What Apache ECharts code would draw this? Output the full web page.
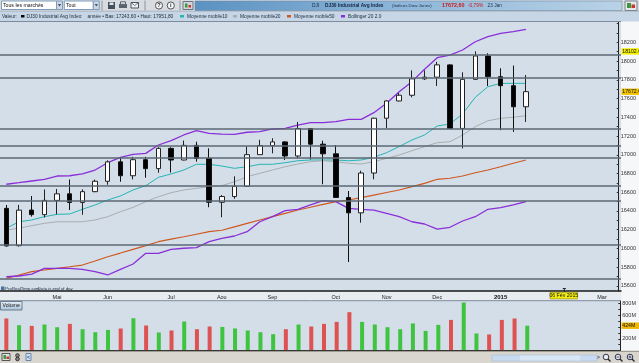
<!DOCTYPE html>
<html><head><meta charset="utf-8">
<script src="https://cdn.jsdelivr.net/npm/echarts@6/dist/echarts.min.js"></script>
<style>html,body{margin:0;padding:0;background:#fff;overflow:hidden}#c{width:639px;height:363px}</style>
</head><body><div id="c"></div>
<script>
// ---- data (weekly DJ30 candles) ----
const weeks = ['2014-04-11','2014-04-17','2014-04-25','2014-05-02','2014-05-09','2014-05-16','2014-05-23','2014-05-30','2014-06-06','2014-06-13','2014-06-20','2014-06-27','2014-07-03','2014-07-11','2014-07-18','2014-07-25','2014-08-01','2014-08-08','2014-08-15','2014-08-22','2014-08-29','2014-09-05','2014-09-12','2014-09-19','2014-09-26','2014-10-03','2014-10-10','2014-10-17','2014-10-24','2014-10-31','2014-11-07','2014-11-14','2014-11-21','2014-11-28','2014-12-05','2014-12-12','2014-12-19','2014-12-26','2015-01-02','2015-01-09','2015-01-16','2015-01-23','2015-01-30','2015-02-06','2015-02-13','2015-02-20','2015-02-27','2015-03-06','2015-03-13'];
const openP  = [16428,16030,16410,16361,16513,16583,16491,16606,16717,16924,16776,16947,16852,17068,16944,17100,16961,16493,16554,16663,17001,17098,17137,16987,17280,17113,17010,16544,16380,16805,17390,17574,17635,17810,17828,17959,17281,17805,18054,17833,17737,17512];
const closeP = [16027,16409,16361,16513,16583,16491,16606,16717,16924,16776,16947,16852,17068,16944,17100,16961,16493,16554,16663,17001,17098,17137,16987,17280,17113,17010,16544,16380,16805,17390,17574,17635,17810,17828,17959,17281,17805,18054,17833,17737,17512,17673];
const lowP   = [16020,16020,16340,16330,16365,16410,16360,16600,16680,16712,16737,16755,16808,16810,16940,16926,16440,16333,16530,16660,17000,17015,16944,16960,16950,16685,16540,15855,16275,16738,17282,17570,17613,17798,17734,17280,17068,17800,17734,17262,17244,17350];
const highP  = [16464,16465,16560,16630,16635,16736,16631,16735,16940,16970,16978,16978,17080,17080,17151,17139,17069,16570,16770,17090,17160,17176,17145,17350,17285,17150,17104,16613,16830,17395,17580,17660,17900,17900,17991,17965,17880,18104,18083,17923,17952,17851];
const volM   = [547,432,421,444,398,455,364,313,352,376,552,427,308,342,496,364,410,403,376,342,313,279,364,444,410,455,489,655,489,444,398,364,462,335,438,523,820,291,274,523,547,424];
const volUp  = [0,1,0,1,1,0,1,1,1,0,1,0,1,0,1,0,0,1,1,1,1,1,0,1,0,0,0,0,1,1,1,1,1,1,1,0,1,1,0,0,0,1];
const ma10   = [16215,16285,16304,16339,16364,16368,16418,16464,16517,16560,16624,16670,16759,16795,16837,16898,16898,16880,16855,16872,16898,16898,16915,16936,16944,16944,16944,16936,16944,16973,17022,17088,17157,17211,17307,17328,17435,17613,17726,17762,17762,17762];
const ma20   = [16197,16215,16243,16268,16285,16285,16285,16304,16339,16392,16439,16499,16552,16595,16624,16642,16659,16670,16712,16766,16802,16837,16872,16901,16926,16936,16926,16909,16901,16926,16962,16997,17043,17086,17129,17139,17211,17299,17363,17389,17400,17417];
const ma50   = [15681,15717,15752,15770,15788,15805,15823,15866,15912,15951,15991,16031,16072,16099,16125,16152,16179,16194,16231,16268,16304,16339,16374,16410,16440,16471,16499,16517,16542,16570,16597,16624,16659,16695,16738,16749,16773,16808,16837,16872,16909,16944];
const bbUp   = [16685,16702,16720,16738,16773,16776,16795,16837,16915,16973,17005,17015,17104,17150,17211,17257,17229,17221,17218,17240,17246,17275,17282,17317,17342,17342,17353,17378,17378,17449,17549,17673,17780,17912,18036,18064,18118,18206,18260,18296,18313,18339];
const bbLow  = [15698,15706,15727,15788,15788,15788,15777,15752,15717,15777,15834,15948,15948,15991,16002,16008,16072,16108,16133,16179,16285,16339,16403,16418,16464,16510,16499,16428,16418,16410,16375,16339,16285,16261,16207,16226,16293,16339,16418,16435,16464,16499];
const hLines = [18072,17822,17282,17096,16968,16670,16506,16044,15681];
const yTicks = [15600,15800,16000,16200,16400,16600,16800,17000,17200,17400,17600,17800,18000,18200];
const volTicks = [200,600,800];
const monthTicks = {4:'Mai',8:'Jun',13:'Jul',17:'Aou',21:'Sep',26:'Oct',30:'Nov',34:'Dec',39:'2015',47:'Mar'};
const lastClose = 17672.6, athLabel = 18102.6, lastVol = 424;

// ---- layout ----
const FONT = 'Liberation Sans, Arial, sans-serif';
const slot = 12.77, gLeft = -2.385, gWidth = 49 * slot;
const BG = '#d3dee9';
const tickMarks = []; for (let v = 15600; v <= 18400; v += 100) tickMarks.push(v);

const chart = echarts.init(document.getElementById('c'));
const candleData = openP.map((o, i) => [o, closeP[i], lowP[i], highP[i]]);
const lineS = (name, data, color, w) => ({
  name, type: 'line', xAxisIndex: 0, yAxisIndex: 0, data, showSymbol: false, symbol: 'none',
  lineStyle: {color, width: w}, itemStyle: {color}, z: 3, silent: true
});

chart.setOption({
  animation: false,
  textStyle: {fontFamily: FONT},
  grid: [
    {left: gLeft, width: gWidth, top: 20, height: 271},
    {left: gLeft, width: gWidth, top: 300.7, height: 49.8}
  ],
  xAxis: [
    {type: 'category', gridIndex: 0, data: weeks,
     axisLine: {show: true, lineStyle: {color: '#1a1a1a', width: 1.5}},
     axisTick: {show: false},
     axisLabel: {interval: (i) => monthTicks[i] !== undefined, margin: 3, fontSize: 5.5, color: '#222',
       formatter: (v, i) => monthTicks[i] === '2015' ? '{b|2015}' : (monthTicks[i] || ''),
       rich: {b: {fontWeight: 'bold', fontSize: 6, color: '#111'}}},
     splitLine: {show: false}},
    {type: 'category', gridIndex: 1, data: weeks, axisLine: {show: false}, axisTick: {show: false}, axisLabel: {show: false}}
  ],
  yAxis: [
    {type: 'value', gridIndex: 0, position: 'right', offset: -2.3, min: 15546, max: 18438,
     axisLine: {show: true, lineStyle: {color: '#222', width: 1}},
     axisTick: {show: true, inside: true, length: 2, customValues: tickMarks, lineStyle: {color: '#333'}},
     axisLabel: {customValues: yTicks, formatter: (v) => String(v), fontSize: 5.5, color: '#333', margin: 2},
     splitLine: {show: false}},
    {type: 'value', gridIndex: 1, position: 'right', offset: -2.3, min: 0, max: 851,
     axisLine: {show: true, lineStyle: {color: '#222', width: 1}},
     axisTick: {show: true, inside: true, length: 2, customValues: [100,200,300,400,500,600,700,800], lineStyle: {color: '#333'}},
     axisLabel: {customValues: volTicks, formatter: (v) => v + 'M', fontSize: 5.5, color: '#333', margin: 2},
     splitLine: {show: false}}
  ],
  series: [
    {name: 'DJ30', type: 'candlestick', xAxisIndex: 0, yAxisIndex: 0, data: candleData, barWidth: 5, z: 4,
     itemStyle: {color: '#ffffff', color0: '#000000', borderColor: '#222', borderColor0: '#111', borderWidth: 1},
     markLine: {silent: true, symbol: ['none', 'none'], animation: false,
       lineStyle: {color: '#5b6772', width: 1.6, type: 'solid'}, label: {show: false},
       data: hLines.map(v => ({yAxis: v}))}},
    lineS('MA10', ma10, '#27b5b3', 1),
    lineS('MA20', ma20, '#a9adb0', 1),
    lineS('MA50', ma50, '#d0581e', 1.2),
    lineS('BBup', bbUp, '#8a2fd8', 1.3),
    lineS('BBlow', bbLow, '#8a2fd8', 1.3),
    {name: 'Volume', type: 'bar', xAxisIndex: 1, yAxisIndex: 1, barWidth: 4,
     data: volM.map((v, i) => ({value: v, itemStyle: {color: volUp[i] ? '#3fc43f' : '#de5252'}}))}
  ]
});

// ---- decorations (toolbar, legend, frame, value tags) ----
const R = (x, y, w, h, fill, stroke, z, lw) => ({type: 'rect', shape: {x, y, width: w, height: h}, style: {fill, stroke: stroke || null, lineWidth: lw || 1}, z: z === undefined ? 10 : z, silent: true});
const L = (x1, y1, x2, y2, stroke, lw, z) => ({type: 'line', shape: {x1, y1, x2, y2}, style: {stroke, lineWidth: lw || 1}, z: z === undefined ? 10 : z, silent: true});
const T = (x, y, text, size, fill, weight, align, z) => ({type: 'text', x, y, style: {text, fill: fill || '#1b2a3a', font: (weight || 'normal') + ' ' + size + 'px ' + FONT, verticalAlign: 'middle', align: align || 'left'}, z: z === undefined ? 11 : z, silent: true});
const Cc = (cx, cy, r, fill, stroke, z) => ({type: 'circle', shape: {cx, cy, r}, style: {fill, stroke: stroke || null}, z: z === undefined ? 10 : z, silent: true});

const dateX = chart.convertToPixel({xAxisIndex: 0}, '2015-02-06');
const yAth = chart.convertToPixel({yAxisIndex: 0}, athLabel);
const yLast = chart.convertToPixel({yAxisIndex: 0}, lastClose);
const yVol = chart.convertToPixel({yAxisIndex: 1}, lastVol);
const tag = (y, txt, bg) => [R(621.5, y - 3.2, 17.5, 6.4, bg, null, 20), T(622.3, y + 0.2, txt, 5.2, '#111', 'normal', 'left', 21)];

const g = [
  R(0, 20, 621, 271, BG, null, -10),
  R(0, 300.7, 621, 49.8, BG, null, -10),
  R(621, 20, 18, 331, '#f5f7f9', null, -10),
  R(0, 291, 621, 9.7, '#e7ecf1', null, -10),
  L(0, 300.7, 621, 300.7, '#7d8b99', 1, 5),
  L(0, 350.5, 621, 350.5, '#2a2a2a', 1.2, 5),
  ...tag(yAth, String(athLabel), '#f4f000'),
  ...tag(yLast, String(lastClose), '#f2c200'),
  ...tag(yVol, lastVol + 'M', '#f0b800'),
  // top toolbar
  R(0, 0, 639, 11.5, '#d8dce1', null, 8),
  L(0, 11.2, 639, 11.2, '#9aa6b2', 0.8, 9),
  R(1.5, 1, 55, 8.5, '#ffffff', '#7f9db9'),
  T(3, 5.3, 'Tous les marchés', 5.2, '#111'),
  R(56.5, 1, 6, 8.5, '#c9d6e6', '#7f9db9'),
  {type: 'polygon', shape: {points: [[57.8, 4.3], [61.2, 4.3], [59.5, 6.3]]}, style: {fill: '#334'}, z: 11, silent: true},
  R(64.3, 1, 29, 8.5, '#ffffff', '#7f9db9'),
  T(66, 5.3, 'Tout', 5.2, '#111'),
  R(93.3, 1, 6, 8.5, '#c9d6e6', '#7f9db9'),
  {type: 'polygon', shape: {points: [[94.6, 4.3], [98, 4.3], [96.3, 6.3]]}, style: {fill: '#334'}, z: 11, silent: true},
  L(102, 0.5, 102, 10.5, '#8994a0', 1),
  R(108, 2, 7, 7, '#44505c', null), R(109.5, 2.5, 4, 2.5, '#dfe6ee', null, 11),
  R(119, 4, 8, 4, '#5a6470', null), R(120.5, 1.8, 5, 2.5, '#e8eef4', '#5a6470', 11),
  R(131, 2.5, 7.5, 5.5, '#f2f4f6', '#4a5460'), L(131, 2.5, 134.7, 5.6, '#4a5460', 0.8, 11), L(138.5, 2.5, 134.7, 5.6, '#4a5460', 0.8, 11),
  L(145, 0.5, 145, 10.5, '#8994a0', 1),
  Cc(159, 5.5, 3.6, '#f0f2f5', '#555'), T(159, 5.6, '?', 5.5, '#333', 'bold', 'center'),
  Cc(170.8, 5.5, 3.6, '#f0f2f5', '#555'), T(170.8, 5.6, 'i', 5.5, '#333', 'bold', 'center'),
  L(180, 0.5, 180, 10.5, '#8994a0', 1),
  R(183, 1.5, 10, 8, '#d0d6dc', '#6a747e'), R(185, 3.5, 2.5, 4, '#3a9a3a', null, 11), R(188.5, 5, 2.5, 2.5, '#c33', null, 11),
  {type: 'rect', shape: {x: 195, y: 1, width: 427, height: 9.5},
   style: {fill: new echarts.graphic.LinearGradient(0, 0, 1, 0, [{offset: 0, color: '#5b92c1'}, {offset: 0.5, color: '#8fb7d9'}, {offset: 1, color: '#b9d2e6'}]), stroke: '#6c8aa8', lineWidth: 0.6}, z: 9, silent: true},
  T(312, 5.8, 'DJI', 4.8, '#1c2c4c'),
  T(325, 5.8, 'DJ30 Industrial Avg Index', 4.8, '#142440', 'bold'),
  T(392, 5.8, '(Indices Dow Jones)', 4.4, '#1c2c4c'),
  T(442, 5.8, '17672,60', 5.4, '#d01818', 'bold'),
  T(468, 5.8, '-0,79%', 4.8, '#d01818'),
  T(487.5, 5.8, '23 Jan', 4.8, '#1c2c4c'),
  R(625, 1, 12, 9.5, '#e4e8ec', '#7a8490'), R(627, 3, 4, 5, '#3a9a3a', null, 11), R(631.5, 4.5, 3.5, 3.5, '#c33', null, 11),
  // legend band
  R(0, 11.5, 639, 10, '#c6d6e6', null, 8),
  L(0, 21.5, 621, 21.5, '#7e8c9a', 1, 9),
  T(2, 16.3, 'Valeur:', 4.8),
  R(21, 15, 3.5, 2.5, '#000', null),
  T(26.5, 16.3, 'DJ30 Industrial Avg Index:', 4.8),
  T(87.5, 16.3, 'année • Bas: 17243,60 • Haut: 17951,80', 4.8),
  R(180, 15, 4, 2.5, '#27b5b3', null),
  T(187, 16.3, 'Moyenne mobile10', 4.8),
  R(233, 15, 4, 2.5, '#a9adb0', null),
  T(240, 16.3, 'Moyenne mobile20', 4.8),
  R(287, 15, 4, 2.5, '#d0581e', null),
  T(294, 16.3, 'Moyenne mobile50', 4.8),
  R(341, 15, 4, 2.5, '#8a2fd8', null),
  T(348, 16.3, 'Bollinger 20 2.0', 4.8),
  // footer of main panel
  R(1, 286.5, 3.5, 3.5, '#4f6fa0', null, 6),
  T(5.3, 288.5, 'ProRealTime.com', 4.3, '#1b2a3a', 'normal', 'left', 6),
  T(38, 288.5, 'Data is end of day', 4.3, '#1b2a3a', 'normal', 'left', 6),
  // date cursor label
  L(dateX + 13, 288.5, dateX + 13, 292, '#222', 1, 12),
  L(dateX + 11.5, 288.5, dateX + 14.5, 288.5, '#222', 1, 12),
  R(dateX - 1.3, 292.3, 27.6, 6.6, '#f2ee10', '#8a7d00', 12, 0.6),
  T(dateX + 12.5, 295.8, '06 Fév 2015', 5.2, '#111', 'normal', 'center', 13),
  // volume tab
  {type: 'rect', shape: {x: 0.5, y: 301.5, width: 21.5, height: 8.5},
   style: {fill: new echarts.graphic.LinearGradient(0, 0, 0, 1, [{offset: 0, color: '#e8f0f8'}, {offset: 1, color: '#a9c2da'}]), stroke: '#55677a', lineWidth: 0.8}, z: 10, silent: true},
  T(2.5, 306, 'Volume', 5.2, '#111'),
  // bottom toolbar
  R(0, 351, 639, 12, '#d9d6cf', null, 8),
  L(0, 351.3, 639, 351.3, '#7c7870', 0.8, 9),
  R(2, 353.5, 8, 7, '#dfe3e7', '#555'), R(3.5, 355, 2.5, 4, '#3a9a3a', null, 11), R(6.5, 356.5, 2.5, 2.5, '#c33', null, 11),
  Cc(17.5, 355.5, 1.8, '#888', '#333'), Cc(17.5, 359, 1.8, '#888', '#333'),
  R(26, 353.5, 5, 7, '#cfe0f5', '#6b86a8'), T(28.5, 357.2, '<', 5, '#2a4a8a', 'bold', 'center'),
  R(492, 355, 105, 6, '#c8daf0', '#a8bcd4', 10, 0.6),
  R(520, 355.5, 60, 5, '#d8e6f6', null, 11),
  T(598.5, 358, '>', 5, '#2a4a8a', 'bold', 'center'),
  Cc(606, 357, 2.8, '#e8eef6', '#334'), L(608, 359, 610.5, 361.5, '#222', 1.2, 11),
  Cc(618, 357, 2.8, '#e8eef6', '#334'), L(620, 359, 622.5, 361.5, '#222', 1.2, 11), L(616.5, 357, 619.5, 357, '#225', 0.8, 12),
  Cc(630, 357, 2.8, '#e8eef6', '#334'), L(632, 359, 634.5, 361.5, '#222', 1.2, 11), L(628.5, 357, 631.5, 357, '#225', 0.8, 12), L(630, 355.5, 630, 358.5, '#225', 0.8, 12)
];
chart.setOption({graphic: {elements: g}});
</script></body></html>
